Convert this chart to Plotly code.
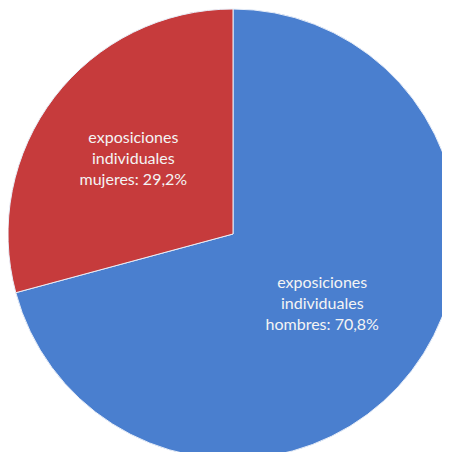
import plotly.graph_objects as go

labels = ["hombres", "mujeres"]
values = [70.8, 29.2]
colors = ["#4a7fcf", "#c63b3c"]

fig = go.Figure(go.Pie(
    labels=labels,
    values=values,
    sort=False,
    direction="clockwise",
    rotation=0,
    marker=dict(colors=colors, line=dict(color="#e8eef8", width=1)),
    texttemplate="exposiciones<br>individuales<br>%{label}: %{value:.1f}%",
    textposition="inside",
    insidetextorientation="horizontal",
    textfont=dict(family="Lato, Open Sans, sans-serif", size=16, color="#f4f4f4"),
    hoverinfo="label+percent",
    showlegend=False,
))

fig.update_layout(
    width=450, height=452,
    margin=dict(l=0, r=0, t=0, b=0),
    paper_bgcolor="white",
    separators=",.",
    uniformtext=dict(minsize=16, mode="show"),
)

fig.write_html("out.html")
